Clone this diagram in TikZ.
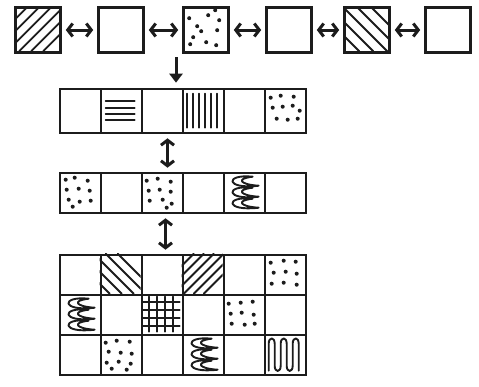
\documentclass[tikz,border=0pt]{standalone}
\usetikzlibrary{arrows.meta}
\definecolor{sketchInk}{RGB}{28,28,28}
\begin{document}
\begin{tikzpicture}[x=1pt,y=-1pt,
      box/.style={draw=sketchInk, line width=2.6pt, minimum size=45pt,
        inner sep=0pt},
      cell/.style={draw=sketchInk, line width=2.6pt, minimum width=41pt,
        inner sep=0pt},
      link/.style={draw=sketchInk, line width=3pt,
        {Straight Barb[length=5pt,width=13pt,line width=3pt]}-{Straight Barb[length=5pt,width=13pt,line width=3pt]},
        shorten <=4pt, shorten >=4pt},
      feed/.style={draw=sketchInk, line width=3pt,
        -{Triangle[length=9pt,width=13pt]}, shorten >=5pt},
      hatch/.style={draw=sketchInk, line width=1.9pt, line cap=round,
        line join=round},
      speck/.style={fill=sketchInk}]
      \useasboundingbox (0,0) rectangle (479,386);

      % Top row of blocks.
      \node[box] (q1) at (38,30) {};
      \node[box] (q2) at (121,30) {};
      \node[box] (q3) at (206,30) {};
      \node[box] (q4) at (289,30) {};
      \node[box] (q5) at (367,30) {};
      \node[box] (q6) at (448,30) {};
      \foreach \src/\dst in {q1/q2,q2/q3,q3/q4,q4/q5,q5/q6}
        \draw[link] (\src.east) -- (\dst.west);

      \begin{scope}[shift={(q1.north west)}]
        \clip (0,0) rectangle (45,45);
        \foreach \d in {14,26,...,80}
          \draw[hatch] ({\d-45},45) -- (\d,0);
      \end{scope}
      \begin{scope}[shift={(q3.north west)}]
        \foreach \p in {(7,12),(15,20),(26,9),(33,4),(37,14),(35,24),
            (11,31),(8,38),(24,36),(34,39),(19,25)}
          \fill[speck] \p circle (2);
      \end{scope}
      \begin{scope}[shift={(q5.north west)}]
        \clip (0,0) rectangle (45,45);
        \foreach \d in {16,30,...,80}
          \draw[hatch] ({\d-45},0) -- (\d,45);
      \end{scope}

      % First strip.
      \foreach \i in {1,...,6}
        \node[cell, minimum height=44pt] (a\i) at ({39.5+41*\i},111) {};
      \coordinate (drop) at (176,57);
      \draw[feed] (drop) -- (drop |- a3.north);

      \begin{scope}[shift={(a2.north west)}]
        \foreach \yy in {13,20,26,32}
          \draw[hatch] (6,\yy) -- (35,\yy);
      \end{scope}
      \begin{scope}[shift={(a4.north west)}]
        \foreach \xx in {5,11,...,36}
          \draw[hatch] (\xx,6) -- (\xx,40);
      \end{scope}
      \begin{scope}[shift={(a6.north west)}]
        \foreach \p in {(7,10),(17,8),(30,9),(9,20),(19,19),(29,18),
            (36,23),(13,31),(24,32),(34,31)}
          \fill[speck] \p circle (2);
      \end{scope}

      % Second strip.
      \foreach \i in {1,...,6}
        \node[cell, minimum height=40pt] (b\i) at ({39.5+41*\i},193) {};
      \draw[link] ([xshift=5pt]a3.south) -- ([xshift=5pt]b3.north);

      \begin{scope}[shift={(b1.north west)}]
        \foreach \p in {(7,8),(16,6),(29,9),(8,18),(20,17),(31,19),
            (10,28),(21,30),(32,29),(14,35)}
          \fill[speck] \p circle (2);
      \end{scope}
      \begin{scope}[shift={(b3.north west)}]
        \foreach \p in {(6,9),(17,7),(30,10),(8,19),(19,18),(30,20),
            (9,29),(22,28),(31,32),(26,36)}
          \fill[speck] \p circle (2);
      \end{scope}
      \begin{scope}[shift={(b5.north west)}]
        \foreach \yy in {5,16,27}
          \draw[hatch] (30,\yy) .. controls (2,{\yy-3}) and (2,{\yy+13}) ..
            (36,{\yy+9}) .. controls (18,{\yy+8}) and (12,{\yy+2}) .. cycle;
      \end{scope}

      % Grid of three rows.
      \foreach \gr in {1,2,3}
        \foreach \gc in {1,...,6}
          \node[cell, minimum height=40pt] (c\gr\gc)
            at ({39.5+41*\gc},{235+40*\gr}) {};
      \draw[link] ([xshift=3pt]b3.south) -- ([xshift=3pt]c13.north);

      \begin{scope}[shift={(c12.north west)}]
        \clip (0,0) rectangle (41,40);
        \foreach \d in {10,22,...,60}
          \draw[hatch] ({\d-40},0) -- (\d,40);
      \end{scope}
      \begin{scope}[shift={(c14.north west)}]
        \clip (0,0) rectangle (41,40);
        \foreach \d in {12,22,...,70}
          \draw[hatch] ({\d-40},40) -- (\d,0);
      \end{scope}
      \begin{scope}[shift={(c16.north west)}]
        \foreach \p in {(7,9),(20,7),(32,8),(10,19),(22,18),(33,20),
            (8,30),(20,29),(33,31)}
          \fill[speck] \p circle (2);
      \end{scope}
      \begin{scope}[shift={(c21.north west)}]
        \foreach \yy in {5,16,27}
          \draw[hatch] (30,\yy) .. controls (2,{\yy-3}) and (2,{\yy+13}) ..
            (36,{\yy+9}) .. controls (18,{\yy+8}) and (12,{\yy+2}) .. cycle;
      \end{scope}
      \begin{scope}[shift={(c23.north west)}]
        \foreach \t in {8,16,24,32} {
          \draw[hatch] (\t,3) -- (\t,38);
          \draw[hatch] (2,\t) -- (39,\t);}
      \end{scope}
      \begin{scope}[shift={(c25.north west)}]
        \foreach \p in {(6,10),(18,9),(30,8),(8,20),(19,19),(31,21),
            (9,30),(22,31),(32,30)}
          \fill[speck] \p circle (2);
      \end{scope}
      \begin{scope}[shift={(c32.north west)}]
        \foreach \p in {(6,9),(17,7),(30,8),(9,18),(21,19),(32,20),
            (7,29),(19,28),(31,30),(12,35),(27,36)}
          \fill[speck] \p circle (2);
      \end{scope}
      \begin{scope}[shift={(c34.north west)}]
        \foreach \yy in {5,16,27}
          \draw[hatch] (30,\yy) .. controls (2,{\yy-3}) and (2,{\yy+13}) ..
            (36,{\yy+9}) .. controls (18,{\yy+8}) and (12,{\yy+2}) .. cycle;
      \end{scope}
      \begin{scope}[shift={(c36.north west)}]
        \draw[hatch] (5,37) -- (5,10) .. controls (5,3) and (11,3) .. (11,10)
          -- (11,32) .. controls (11,39) and (17,39) .. (17,32)
          -- (17,10) .. controls (17,3) and (23,3) .. (23,10)
          -- (23,32) .. controls (23,39) and (29,39) .. (29,32)
          -- (29,10) .. controls (29,3) and (35,3) .. (35,10) -- (35,37);
      \end{scope}
    \end{tikzpicture}
\end{document}
